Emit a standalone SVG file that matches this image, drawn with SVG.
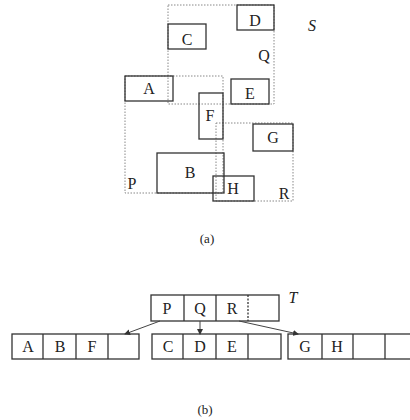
<svg xmlns="http://www.w3.org/2000/svg" width="410" height="420" viewBox="0 0 410 420">
<defs>
<style>
.bg{fill:#fff}
.box{fill:none;stroke:#333;stroke-width:1.3}
.dot{fill:none;stroke:#888;stroke-width:1;stroke-dasharray:1.5,1.5}
.t{font-family:"Liberation Serif",serif;font-size:16px;fill:#222;text-anchor:middle}
.it{font-style:italic}
.cap{font-family:"Liberation Serif",serif;font-size:13px;fill:#222;text-anchor:middle}
.sep{stroke:#333;stroke-width:1.3}
.con{stroke:#444;stroke-width:1;fill:none;marker-end:url(#ah)}
</style>
<marker id="ah" markerWidth="6" markerHeight="6" refX="5" refY="3" orient="auto" markerUnits="userSpaceOnUse">
<path d="M0,0 L6,3 L0,6 Z" fill="#333"/>
</marker>
</defs>
<rect class="bg" x="0" y="0" width="410" height="420"/>
<g id="part-a">
<g id="Q"><rect class="dot" x="168" y="5" width="106" height="99"/><text class="t" x="264" y="61">Q</text></g>
<g id="P"><rect class="dot" x="125" y="76" width="98" height="117"/><text class="t" x="132" y="189">P</text></g>
<g id="R"><rect class="dot" x="216" y="123" width="77" height="78"/><text class="t" x="284" y="199">R</text></g>
<g id="S"><text class="t it" x="312" y="31">S</text></g>
<g id="A"><rect class="box" x="125" y="76" width="48" height="25"/><text class="t" x="149" y="94">A</text></g>
<g id="C"><rect class="box" x="168" y="24" width="38" height="25"/><text class="t" x="187" y="45">C</text></g>
<g id="D"><rect class="box" x="237" y="5" width="37" height="25"/><text class="t" x="255" y="26">D</text></g>
<g id="E"><rect class="box" x="231" y="79" width="38" height="25"/><text class="t" x="250" y="99">E</text></g>
<g id="F"><rect class="box" x="199" y="93" width="24" height="46"/><text class="t" x="210" y="121">F</text></g>
<g id="G"><rect class="box" x="253" y="124" width="40" height="27"/><text class="t" x="273" y="143">G</text></g>
<g id="B"><rect class="box" x="157" y="153" width="67" height="40"/><text class="t" x="190" y="178">B</text></g>
<g id="H"><rect class="box" x="213" y="176" width="41" height="25"/><text class="t" x="233" y="194">H</text></g>
<text class="cap" x="207" y="243">(a)</text>
</g>
<g id="part-b">
<g id="T">
<rect class="box" x="151" y="295" width="128" height="26"/>
<line class="sep" x1="184" y1="295" x2="184" y2="321"/>
<line class="sep" x1="216" y1="295" x2="216" y2="321"/>
<line class="sep" x1="248" y1="295" x2="248" y2="321" stroke-dasharray="2,1.5"/>
<text class="t" x="167" y="314">P</text>
<text class="t" x="200" y="314">Q</text>
<text class="t" x="232" y="314">R</text>
<text class="t it" x="293" y="303">T</text>
</g>
<g id="leafP">
<rect class="box" x="12" y="334" width="127" height="25"/>
<line class="sep" x1="43" y1="334" x2="43" y2="359"/>
<line class="sep" x1="76" y1="334" x2="76" y2="359"/>
<line class="sep" x1="108" y1="334" x2="108" y2="359"/>
<text class="t" x="28" y="352">A</text>
<text class="t" x="60" y="352">B</text>
<text class="t" x="92" y="352">F</text>
</g>
<g id="leafQ">
<rect class="box" x="152" y="334" width="129" height="25"/>
<line class="sep" x1="183" y1="334" x2="183" y2="359"/>
<line class="sep" x1="216" y1="334" x2="216" y2="359"/>
<line class="sep" x1="248" y1="334" x2="248" y2="359"/>
<text class="t" x="168" y="352">C</text>
<text class="t" x="200" y="352">D</text>
<text class="t" x="232" y="352">E</text>
</g>
<g id="leafR">
<rect class="box" x="288" y="334" width="130" height="25"/>
<line class="sep" x1="322" y1="334" x2="322" y2="359"/>
<line class="sep" x1="353" y1="334" x2="353" y2="359"/>
<line class="sep" x1="385" y1="334" x2="385" y2="359" stroke-width="2.2"/>
<text class="t" x="305" y="352">G</text>
<text class="t" x="337" y="352">H</text>
</g>
<g id="connectors">
<line class="con" x1="160" y1="321" x2="125" y2="334"/>
<line class="con" x1="200" y1="321" x2="200" y2="334"/>
<line class="con" x1="239" y1="321" x2="298" y2="334"/>
</g>
<text class="cap" x="205" y="414">(b)</text>
</g>
</svg>
